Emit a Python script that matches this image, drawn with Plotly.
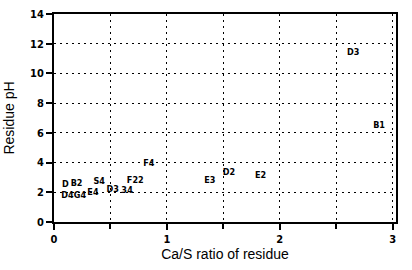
import plotly.graph_objects as go

labels = ["D3", "B1", "F4", "E3", "D2", "E2", "F22", "D3", "3", "4",
          "D", "B2", "D4", "G4", "E4", "S4"]
ca_s = [2.65, 2.88, 0.84, 1.38, 1.55, 1.83, 0.72, 0.52, 0.62, 0.675,
        0.1, 0.2, 0.12, 0.23, 0.345, 0.4]
ph = [11.4, 6.5, 3.9, 2.8, 3.3, 3.1, 2.8, 2.2, 2.1, 2.1,
      2.5, 2.6, 1.75, 1.75, 2.0, 2.7]

x_ticks = [0, 1, 2, 3]
y_ticks = [0, 2, 4, 6, 8, 10, 12, 14]

fig = go.Figure()
fig.add_trace(go.Scatter(
    x=ca_s, y=ph, mode="text", text=labels,
    textfont=dict(family="DejaVu Sans Condensed", size=9, color="black", weight="bold"),
    textposition="middle center", showlegend=False, cliponaxis=False,
))

gdash = "2px,4px"
grid = dict(showgrid=True, gridcolor="black", griddash=gdash, gridwidth=1.3)
fig.update_layout(
    width=412, height=270,
    margin=dict(l=53, r=16, t=8, b=48),
    paper_bgcolor="white", plot_bgcolor="white",
    xaxis=dict(range=[0, 3.03], tickvals=x_ticks, ticktext=[str(v) for v in x_ticks],
               ticks="outside", ticklen=6, tickwidth=1.5, tickcolor="black",
               showline=True, linewidth=2, linecolor="black", mirror=True,
               zeroline=False,
               tickfont=dict(family="DejaVu Sans Condensed", size=11, color="black", weight="bold"),
               title=dict(text="Ca/S ratio of residue", standoff=4,
                          font=dict(family="Liberation Sans", size=14, color="black")),
               minor=dict(dtick=0.5, tick0=0, ticks="outside", ticklen=5, tickcolor="black",
                          showgrid=True, gridcolor="black", griddash=gdash, gridwidth=1.3),
               **grid),
    yaxis=dict(range=[0, 14], tickvals=y_ticks, ticktext=[str(v) for v in y_ticks],
               ticks="outside", ticklen=6, tickwidth=1.5, tickcolor="black",
               showline=True, linewidth=2, linecolor="black", mirror=True,
               zeroline=False,
               tickfont=dict(family="DejaVu Sans Condensed", size=11, color="black", weight="bold"),
               title=dict(text="Residue pH", standoff=12,
                          font=dict(family="Liberation Sans", size=14, color="black")),
               **grid),
)
fig.write_html("out.html")
